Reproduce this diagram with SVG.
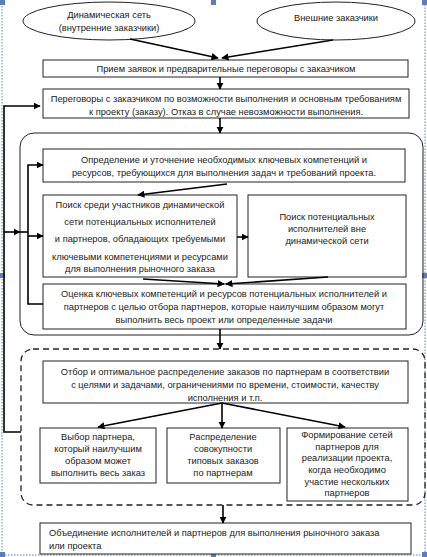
<svg xmlns="http://www.w3.org/2000/svg" width="427" height="557" viewBox="0 0 427 557">
<style>
text{font-family:"Liberation Sans",Arial,sans-serif;font-size:9.3px;fill:#222;text-anchor:middle}
.b{fill:#fff;stroke:#222;stroke-width:1}
.c{fill:none;stroke:#000;stroke-width:1.6}
.f{fill:none;stroke:#5b7fb5;stroke-width:1;stroke-dasharray:1.5 1.5}
.h{fill:#5b7fb5}
</style>
<defs>
<marker id="a" viewBox="0 0 10 10" refX="9" refY="5" markerWidth="4.5" markerHeight="4.5" orient="auto"><path d="M0,0 L10,5 L0,10 z" fill="#000"/></marker>
</defs>
<g id="frame">
<path class="f" d="M2,0 V555 H425 V0"/>
<rect class="h" x="0" y="0" width="5" height="5"/>
<rect class="h" x="211" y="0" width="5" height="5"/>
<rect class="h" x="422" y="0" width="5" height="5"/>
<rect class="h" x="0" y="273" width="5" height="5"/>
<rect class="h" x="422" y="273" width="5" height="5"/>
<rect class="h" x="0" y="552" width="5" height="5"/>
<rect class="h" x="211" y="552" width="5" height="5"/>
<rect class="h" x="422" y="552" width="5" height="5"/>
</g>
<g id="group1"><rect x="20" y="133" width="403" height="202" rx="14" fill="none" stroke="#222" stroke-width="1"/></g>
<g id="group2"><rect x="21" y="349" width="404" height="156" rx="12" fill="none" stroke="#222" stroke-width="1.3" stroke-dasharray="6 4"/></g>
<g id="e1"><ellipse class="b" cx="109" cy="21" rx="86" ry="19"/><text x="109" y="18">Динамическая сеть</text><text x="109" y="31">(внутренние заказчики)</text></g>
<g id="e2"><ellipse class="b" cx="336" cy="21" rx="79" ry="19"/><text x="336" y="21">Внешние заказчики</text></g>
<g id="n1"><rect class="b" x="43" y="60" width="365" height="17"/><text x="226" y="72">Прием заявок и предварительные переговоры с заказчиком</text></g>
<g id="n2"><rect class="b" x="43" y="89" width="366" height="29"/><text x="226" y="102">Переговоры с заказчиком по возможности выполнения и основным требованиям</text><text x="226" y="115">к проекту (заказу). Отказ в случае невозможности выполнения.</text></g>
<g id="n3"><rect class="b" x="43" y="149" width="362" height="33"/><text x="224" y="163">Определение и уточнение необходимых ключевых компетенций и</text><text x="224" y="176">ресурсов, требующихся для выполнения задач и требований проекта.</text></g>
<g id="n4"><rect class="b" x="43" y="195" width="194" height="82"/><text x="140" y="208">Поиск среди участников динамической</text><text x="140" y="225">сети потенциальных исполнителей</text><text x="140" y="242">и партнеров, обладающих требуемыми</text><text x="140" y="260">ключевыми компетенциями  и ресурсами</text><text x="140" y="272">для выполнения рыночного заказа</text></g>
<g id="n5"><rect class="b" x="248" y="195" width="158" height="82"/><text x="327" y="220">Поиск потенциальных</text><text x="327" y="232">исполнителей вне</text><text x="327" y="244">динамической сети</text></g>
<g id="n6"><rect class="b" x="43" y="284" width="363" height="45"/><text x="224" y="297">Оценка ключевых компетенций и ресурсов потенциальных исполнителей и</text><text x="224" y="310">партнеров с целью отбора партнеров, которые наилучшим образом могут</text><text x="224" y="323">выполнить весь проект или определенные задачи</text></g>
<g id="n7"><rect class="b" x="43" y="361" width="365" height="42"/><text x="225" y="375">Отбор и оптимальное распределение заказов по  партнерам в соответствии</text><text x="225" y="388">с целями и задачами, ограничениями по времени, стоимости, качеству</text><text x="225" y="401">исполнения и т.п.</text></g>
<g id="n8"><rect class="b" x="40" y="428" width="116" height="55"/><text x="98" y="440">Выбор партнера,</text><text x="98" y="452">который наилучшим</text><text x="98" y="464">образом может</text><text x="98" y="476">выполнить весь заказ</text></g>
<g id="n9"><rect class="b" x="167" y="428" width="113" height="55"/><text x="223" y="440">Распределение</text><text x="223" y="452">совокупности</text><text x="223" y="464">типовых заказов</text><text x="223" y="476">по партнерам</text></g>
<g id="n10"><rect class="b" x="287" y="428" width="121" height="73"/><text x="347" y="438">Формирование сетей</text><text x="347" y="450">партнеров для</text><text x="347" y="461">реализации проекта,</text><text x="347" y="473">когда необходимо</text><text x="347" y="485">участие нескольких</text><text x="347" y="496">партнеров</text></g>
<g id="n11"><rect class="b" x="40" y="523" width="371" height="31"/><text x="49" y="536" style="text-anchor:start">Объединение исполнителей и партнеров для выполнения рыночного заказа</text><text x="49" y="549" style="text-anchor:start">или проекта</text></g>
<g id="connectors">
<path class="c" d="M130,39 L218,58" marker-end="url(#a)"/>
<path class="c" d="M333,40 L222,58" marker-end="url(#a)"/>
<path class="c" d="M220,77 V89" marker-end="url(#a)"/>
<path class="c" d="M220,118 V133" marker-end="url(#a)"/>
<path class="c" d="M227,184 L138,195" marker-end="url(#a)"/>
<path class="c" d="M237,237 H248" marker-end="url(#a)"/>
<path class="c" d="M143,279 L224,284" marker-end="url(#a)"/>
<path class="c" d="M328,277 L226,284" marker-end="url(#a)"/>
<path class="c" d="M220,329 V349" marker-end="url(#a)"/>
<path class="c" d="M222,403 L98,427" marker-end="url(#a)"/>
<path class="c" d="M222,403 V428" marker-end="url(#a)"/>
<path class="c" d="M222,403 L345,427" marker-end="url(#a)"/>
<path class="c" d="M223,505 V523" marker-end="url(#a)"/>
<path class="c" d="M21,432 H4 V106 H40" marker-end="url(#a)"/>
<path class="c" d="M4,232 H20" marker-end="url(#a)"/>
<path class="c" d="M20,232 H28"/>
<path class="c" d="M43,304 H28 V165 H43" marker-end="url(#a)"/>
<path class="c" d="M28,236 H43" marker-end="url(#a)"/>
</g>
</svg>
